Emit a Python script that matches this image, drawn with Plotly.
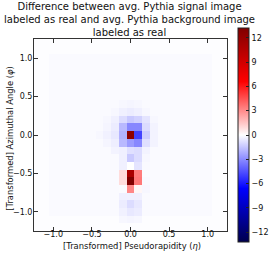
import plotly.graph_objects as go

# Cell centres (25 x 25 jet image grid)
eta_centers = [round(-1.2 + 0.1 * i, 1) for i in range(25)]
phi_centers = [round(1.2 - 0.1 * j, 1) for j in range(25)]  # top row first

# Background level
bg_outer = -0.04
bg_inner = -0.12

# Central patch values: rows (phi index from top) -> {col index: value}
patch_rows = {
    8:  {11: -0.2, 12: -0.25, 13: -0.2},
    9:  {10: -0.2, 11: -0.4, 12: -0.5, 13: -0.4, 14: -0.2},
    10: {9: -0.2, 10: -0.4, 11: -0.9, 12: -1.4, 13: -1.2, 14: -0.7, 15: -0.2},
    11: {9: -0.25, 10: -0.5, 11: -1.8, 12: -3.1, 13: -3.1, 14: -0.9, 15: -0.3},
    12: {8: -0.2, 9: -0.35, 10: -0.6, 11: -2.0, 12: 12.5, 13: -4.9, 14: -1.3, 15: -0.3},
    13: {9: -0.25, 10: -0.45, 11: -1.8, 12: -2.6, 13: -3.1, 14: -0.8, 15: -0.3},
    14: {10: -0.3, 11: -0.4, 12: -0.8, 13: -0.9, 14: -0.3},
    15: {11: -0.4, 12: -1.4, 13: -0.9, 14: -0.2},
    16: {11: -0.4, 12: 0.0, 13: -0.7, 14: -0.15},
    17: {11: 0.9, 12: 11.0, 13: 3.4, 14: -0.1},
    18: {11: 0.9, 12: 13.2, 13: 3.5, 14: -0.15},
    19: {11: -0.1, 12: 3.1, 13: 0.2, 14: -0.2},
    20: {11: -0.4, 12: -0.4, 13: -0.4},
    21: {11: -0.5, 12: -0.9, 13: -0.6},
    22: {11: -0.35, 12: -0.6, 13: -0.5},
    23: {11: -0.2, 12: -0.25, 13: -0.2},
}

z = []
for j in range(25):
    row = []
    for i in range(25):
        edge = i < 2 or i > 22 or j < 2 or j > 22
        row.append(bg_outer if edge else bg_inner)
    for i, v in patch_rows.get(j, {}).items():
        row[i] = v
    z.append(row)

zlim = 13.2
axis_ticks = [-1.0, -0.5, 0.0, 0.5, 1.0]
axis_ticktext = ["\u22121.0", "\u22120.5", "0.0", "0.5", "1.0"]
cbar_ticks = [-12, -9, -6, -3, 0, 3, 6, 9, 12]
cbar_ticktext = [("\u2212" + str(-t)) if t < 0 else str(t) for t in cbar_ticks]

title_text = ("Difference between avg. Pythia signal image<br>"
              "labeled as real and avg. Pythia background image<br>"
              "labeled as real")
xlabel = "[Transformed] Pseudorapidity (<i>η</i>)"
ylabel = "[Transformed] Azimuthal Angle (<i>φ</i>)"

seismic = [
    [0.0, "rgb(0,0,77)"],
    [0.25, "rgb(0,0,255)"],
    [0.5, "rgb(255,255,255)"],
    [0.75, "rgb(255,0,0)"],
    [1.0, "rgb(128,0,0)"],
]

font_family = "DejaVu Sans"

fig = go.Figure(
    go.Heatmap(
        x=eta_centers,
        y=phi_centers,
        z=z,
        zmin=-zlim,
        zmax=zlim,
        colorscale=seismic,
        hoverinfo="skip",
        colorbar=dict(
            x=1.057,
            xanchor="left",
            y=0.5,
            yanchor="middle",
            len=1.115,
            lenmode="fraction",
            thickness=11,
            outlinewidth=1,
            outlinecolor="#222",
            tickvals=cbar_ticks,
            ticktext=cbar_ticktext,
            ticks="inside",
            ticklen=3,
            tickcolor="#222",
            tickfont=dict(family=font_family, size=8, color="#111"),
            xpad=0,
            ypad=0,
        ),
    )
)

axis_common = dict(
    showgrid=False,
    zeroline=False,
    showline=True,
    linecolor="#333",
    linewidth=1,
    mirror="allticks",
    ticks="inside",
    ticklen=4,
    tickcolor="#333",
    tickfont=dict(family=font_family, size=8, color="#111"),
    tickvals=axis_ticks,
    ticktext=axis_ticktext,
    range=[-1.25, 1.25],
    automargin=False,
)

fig.update_layout(
    width=277,
    height=277,
    margin=dict(l=34, r=50, t=39, b=46, autoexpand=False),
    paper_bgcolor="white",
    plot_bgcolor="white",
    xaxis=dict(**axis_common, ticklabelstandoff=-5),
    yaxis=dict(**axis_common, ticklabelstandoff=-1),
    annotations=[
        dict(text=title_text, xref="paper", yref="paper", x=0.497, y=1.099,
             xanchor="center", yanchor="middle", showarrow=False,
             font=dict(family=font_family, size=10, color="#111")),
        dict(text=xlabel, xref="paper", yref="paper", x=0.508, y=-0.077,
             xanchor="center", yanchor="middle", showarrow=False,
             font=dict(family=font_family, size=8.4, color="#111")),
        dict(text=ylabel, xref="paper", yref="paper", x=-0.126, y=0.484,
             xanchor="center", yanchor="middle", showarrow=False, textangle=-90,
             font=dict(family=font_family, size=8.4, color="#111")),
    ],
)

fig.write_html(
    "out.html",
    config={"displayModeBar": False, "staticPlot": True},
    post_script="document.body.style.margin='0';document.body.style.overflow='hidden';",
)
